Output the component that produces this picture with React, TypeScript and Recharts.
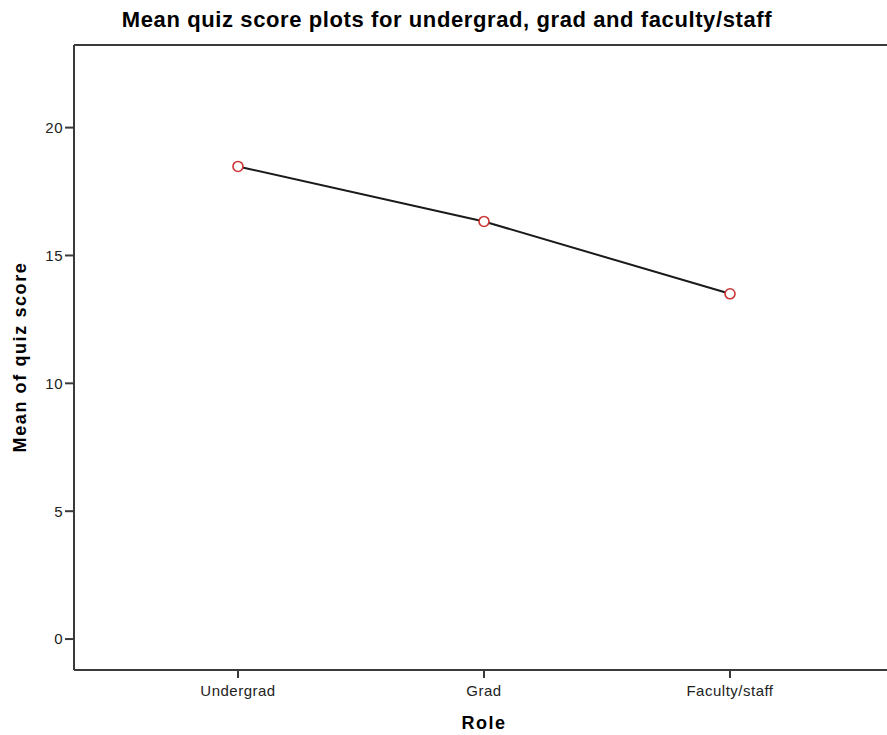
import { Label, Line, LineChart, ReferenceLine, XAxis, YAxis } from "recharts";

const roles = ["Undergrad", "Grad", "Faculty/staff"];
const meanScores = [18.48, 16.33, 13.5];
const yTicks = [0, 5, 10, 15, 20];
const yDomain = [-1.21, 23.23];

const data = roles.map((role, i) => ({ role, score: meanScores[i] }));

const FONT = "'Liberation Sans', Arial, sans-serif";
const AXIS = "#3a3a3a";
const tickStyle = { fill: "#222", fontSize: 15, fontFamily: FONT, letterSpacing: 0.5 };

export default function App() {
  return (
    <div
      style={{
        position: "absolute",
        left: 0,
        top: 0,
        width: 887,
        height: 735,
        overflow: "hidden",
        background: "#fff",
        fontFamily: FONT,
      }}
    >
      <svg
        width={887}
        height={45}
        style={{ position: "absolute", left: 0, top: 0 }}
      >
        <text
          x={447}
          y={27}
          textAnchor="middle"
          fontFamily={FONT}
          fontWeight="bold"
          fontSize={22}
          letterSpacing={0.6}
          fill="#000"
        >
          Mean quiz score plots for undergrad, grad and faculty/staff
        </text>
      </svg>
      <LineChart
        width={892}
        height={735}
        data={data}
        margin={{ top: 45, right: 0, left: 0, bottom: 0 }}
      >
        <XAxis
          dataKey="role"
          height={65}
          padding={{ left: 164, right: 162 }}
          tickSize={8}
          tickMargin={7}
          axisLine={{ stroke: AXIS, strokeWidth: 2 }}
          tickLine={{ stroke: AXIS, strokeWidth: 2 }}
          tick={tickStyle}
        >
          <Label
            content={() => (
              <text
                x={484}
                y={729}
                textAnchor="middle"
                fontFamily={FONT}
                fontWeight="bold"
                fontSize={18}
                letterSpacing={1.5}
                fill="#000"
              >
                Role
              </text>
            )}
          />
        </XAxis>
        <YAxis
          width={74}
          type="number"
          domain={yDomain}
          ticks={yTicks}
          allowDataOverflow
          tickSize={9}
          tickMargin={2}
          axisLine={{ stroke: AXIS, strokeWidth: 2 }}
          tickLine={{ stroke: AXIS, strokeWidth: 2 }}
          tick={tickStyle}
        >
          <Label
            content={() => (
              <text
                x={26}
                y={357}
                transform="rotate(-90, 26, 357)"
                textAnchor="middle"
                fontFamily={FONT}
                fontWeight="bold"
                fontSize={18}
                letterSpacing={1.6}
                fill="#000"
              >
                Mean of quiz score
              </text>
            )}
          />
        </YAxis>
        <ReferenceLine
          y={yDomain[1]}
          stroke={AXIS}
          strokeWidth={2}
          ifOverflow="visible"
        />
        <Line
          type="linear"
          dataKey="score"
          stroke="#1a1a1a"
          strokeWidth={2}
          isAnimationActive={false}
          dot={{ r: 5, stroke: "#cc3333", strokeWidth: 1.6, fill: "#fff" }}
          activeDot={false}
        />
      </LineChart>
    </div>
  );
}
